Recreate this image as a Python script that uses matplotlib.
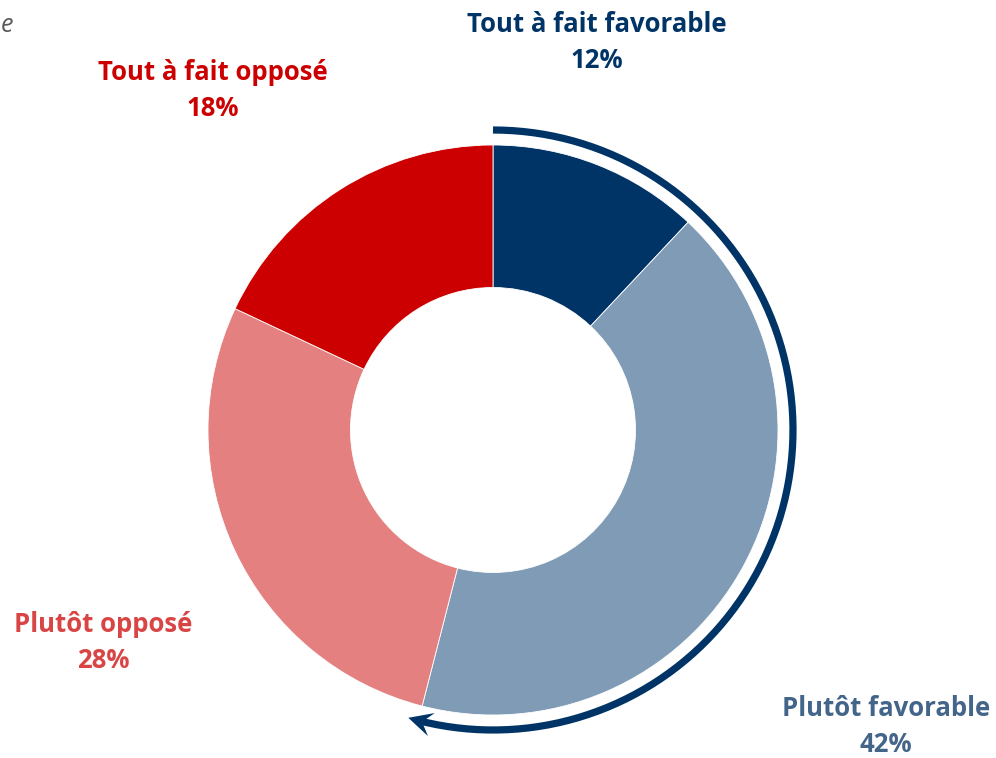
import numpy as np
import matplotlib.pyplot as plt
from matplotlib.patches import Polygon

# Data (clockwise from the top)
labels = ['Tout à fait favorable', 'Plutôt favorable', 'Plutôt opposé', 'Tout à fait opposé']
shares = [12, 42, 28, 18]
slice_colors = ['#003466', '#7f9bb5', '#e48080', '#cc0000']
text_colors = ['#003466', '#44658a', '#d94545', '#cc0000']

# label anchors in pixel coords (top-left origin)
label_pos = [(597, 24), (886, 708), (103, 625), (213, 73)]

W, H = 996, 758
fig = plt.figure(figsize=(W / 100, H / 100), dpi=100)
ax = fig.add_axes([0, 0, 1, 1])

cx, cy = 493, H - 430
R = 285

ax.pie(shares, colors=slice_colors, startangle=90, counterclock=False,
       center=(cx, cy), radius=R, frame=True,
       wedgeprops=dict(width=R * 0.5, edgecolor='white', linewidth=0.6))
ax.set_xlim(0, W)
ax.set_ylim(0, H)
ax.set_aspect('equal')
ax.axis('off')

# labels with percentages
for lab, val, col, (x, y) in zip(labels, shares, text_colors, label_pos):
    ax.text(x, H - y, lab, ha='center', va='center', fontsize=18.5,
            fontweight='bold', color=col, family='Open Sans')
    ax.text(x, H - y - 36, f'{val}%', ha='center', va='center', fontsize=18.5,
            fontweight='bold', color=col, family='Open Sans')

# arrow around the "favorable" share
fav = (shares[0] + shares[1]) / 100
ra = 300
head_len, head_w = 24, 12
tip_deg = 90 - 360 * fav - 2.0
notch_deg = tip_deg + np.degrees(head_len * 0.6 / ra)
theta = np.radians(np.linspace(90, notch_deg, 200))
ax.plot(cx + ra * np.cos(theta), cy + ra * np.sin(theta), color='#003466',
        lw=5.2, solid_capstyle='butt')

t = np.radians(tip_deg)
tip = np.array([cx + ra * np.cos(t), cy + ra * np.sin(t)])
d = np.array([np.sin(t), -np.cos(t)])      # clockwise direction of travel
n = np.array([np.cos(t), np.sin(t)])       # outward normal
back = tip - d * head_len
notch = tip - d * head_len * 0.6
head = [tip, back + n * head_w, notch, back - n * head_w]
ax.add_patch(Polygon(head, closed=True, color='#003466', lw=0))

# leftover fragment of a note in the top-left corner
ax.text(13, H - 25, 'e', ha='right', va='center', fontsize=18, style='italic',
        color='#595959', family='Open Sans')

fig.savefig('out.png', dpi=100)
